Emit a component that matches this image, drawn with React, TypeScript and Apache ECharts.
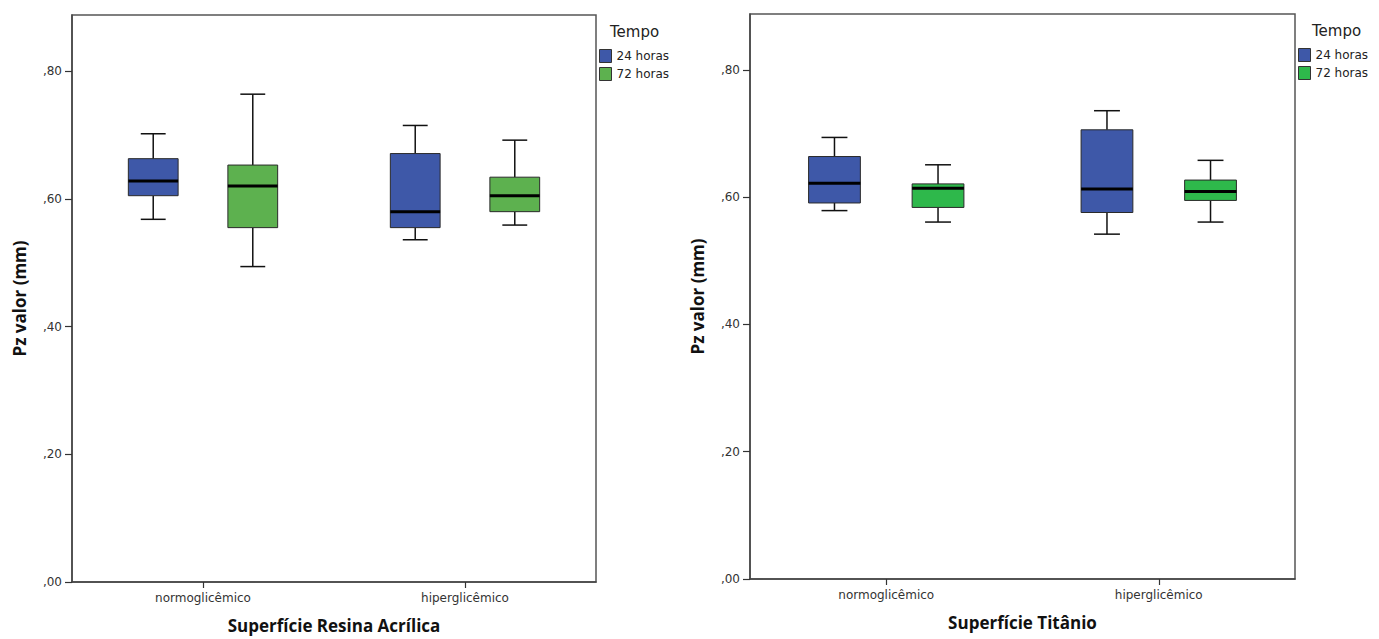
import React, { useEffect, useRef } from "react";
import * as echarts from "echarts";

// Categories and legend
const categories = ["normoglicêmico", "hiperglicêmico"];
const legendNames = ["24 horas", "72 horas"];
const yTicks = [0, 0.2, 0.4, 0.6, 0.8];

// [min, Q1, median, Q3, max] per category
const resina24 = [
  [0.568, 0.605, 0.628, 0.663, 0.702],
  [0.536, 0.555, 0.58, 0.671, 0.715],
];
const resina72 = [
  [0.494, 0.555, 0.62, 0.653, 0.764],
  [0.559, 0.58, 0.605, 0.634, 0.692],
];
const titanio24 = [
  [0.579, 0.591, 0.622, 0.664, 0.694],
  [0.542, 0.576, 0.613, 0.706, 0.736],
];
const titanio72 = [
  [0.561, 0.584, 0.614, 0.621, 0.651],
  [0.561, 0.595, 0.609, 0.627, 0.658],
];

const BLUE = "#3e58a8";
const GREEN_L = "#5db14f";
const GREEN_R = "#2eb84b";
const FONT = "DejaVu Sans";
const BOLD_FONT = "Open Sans";

function makeRender(offsetFrac: number, color: string) {
  return (params: any, api: any) => {
    const cat = api.value(0);
    const band = api.size([1, 0])[0];
    const cx = api.coord([cat, 0])[0] + offsetFrac * band;
    const w = 0.19 * band;
    const yMin = api.coord([cat, api.value(1)])[1];
    const yQ1 = api.coord([cat, api.value(2)])[1];
    const yMed = api.coord([cat, api.value(3)])[1];
    const yQ3 = api.coord([cat, api.value(4)])[1];
    const yMax = api.coord([cat, api.value(5)])[1];
    const lineStyle = { stroke: "#111", lineWidth: 1.5 };
    return {
      type: "group",
      children: [
        { type: "line", shape: { x1: cx, y1: yMax, x2: cx, y2: yQ3 }, style: lineStyle },
        { type: "line", shape: { x1: cx, y1: yQ1, x2: cx, y2: yMin }, style: lineStyle },
        { type: "line", shape: { x1: cx - w / 4, y1: yMax, x2: cx + w / 4, y2: yMax }, style: lineStyle },
        { type: "line", shape: { x1: cx - w / 4, y1: yMin, x2: cx + w / 4, y2: yMin }, style: lineStyle },
        {
          type: "rect",
          shape: { x: cx - w / 2, y: yQ3, width: w, height: yQ1 - yQ3 },
          style: { fill: color, stroke: "#2a2a2a", lineWidth: 1 },
        },
        {
          type: "line",
          shape: { x1: cx - w / 2, y1: yMed, x2: cx + w / 2, y2: yMed },
          style: { stroke: "#000", lineWidth: 3 },
        },
      ],
    };
  };
}

function toData(arr: number[][]) {
  return arr.map((d, i) => [i, ...d]);
}

export default function App() {
  const ref = useRef<HTMLDivElement>(null);
  useEffect(() => {
    if (!ref.current) return;
    const chart = echarts.init(ref.current, undefined, { renderer: "svg" });

    const grids = [
      { left: 72, top: 15, width: 524, height: 567 },
      { left: 750, top: 14, width: 545, height: 565 },
    ];
    const xNames = ["Superfície Resina Acrílica", "Superfície Titânio"];

    const xAxis = grids.map((_, i) => ({
      type: "category",
      gridIndex: i,
      data: categories,
      boundaryGap: true,
      name: xNames[i],
      nameLocation: "middle",
      nameGap: 35,
      nameTextStyle: { fontFamily: BOLD_FONT, fontWeight: "bold", fontSize: 17, color: "#111" },
      axisLine: { show: true, lineStyle: { color: "#444", width: 1.5 } },
      axisTick: { show: true, alignWithLabel: true, interval: 0, length: 6, lineStyle: { color: "#333", width: 1.2 } },
      axisLabel: { fontFamily: FONT, fontSize: 12, color: "#333", margin: 10, interval: 0 },
      splitLine: { show: false },
    }));

    const yAxis = grids.map((_, i) => ({
      type: "value",
      gridIndex: i,
      min: 0,
      max: 0.888,
      name: "Pz valor (mm)",
      nameLocation: "middle",
      nameGap: 44,
      nameTextStyle: { fontFamily: BOLD_FONT, fontWeight: "bold", fontSize: 17, color: "#111" },
      axisLine: { show: true, lineStyle: { color: "#444", width: 1.5 } },
      axisTick: { show: true, length: 7, customValues: yTicks, lineStyle: { color: "#333", width: 1.2 } },
      axisLabel: {
        fontFamily: FONT,
        fontSize: 12,
        color: "#333",
        margin: 10,
        customValues: yTicks,
        formatter: (v: number) => "," + v.toFixed(2).split(".")[1],
      },
      splitLine: { show: false },
    }));

    const series = [
      { data: resina24, g: 0, off: -0.19, color: BLUE, name: legendNames[0] },
      { data: resina72, g: 0, off: 0.19, color: GREEN_L, name: legendNames[1] },
      { data: titanio24, g: 1, off: -0.19, color: BLUE, name: legendNames[0] },
      { data: titanio72, g: 1, off: 0.19, color: GREEN_R, name: legendNames[1] },
    ].map((s) => ({
      type: "custom",
      name: s.name,
      xAxisIndex: s.g,
      yAxisIndex: s.g,
      data: toData(s.data),
      encode: { x: 0, y: [1, 2, 3, 4, 5] },
      itemStyle: { color: s.color },
      renderItem: makeRender(s.off, s.color),
    }));

    const legendCommon = {
      orient: "vertical",
      icon: "rect",
      itemWidth: 12,
      itemHeight: 13,
      itemGap: 4,
      selectedMode: false,
      textStyle: { fontFamily: FONT, fontSize: 12, color: "#222" },
      itemStyle: { borderColor: "#333", borderWidth: 1 },
      padding: 0,
    };

    chart.setOption({
      animation: false,
      backgroundColor: "#fff",
      title: [
        { text: "Tempo", left: 610, top: 24, padding: 0, textStyle: { fontFamily: FONT, fontSize: 15, fontWeight: "normal", color: "#222" } },
        { text: "Tempo", left: 1312, top: 23, padding: 0, textStyle: { fontFamily: FONT, fontSize: 15, fontWeight: "normal", color: "#222" } },
      ],
      legend: [
        {
          ...legendCommon,
          left: 599,
          top: 49,
          data: [
            { name: legendNames[0], itemStyle: { color: BLUE } },
            { name: legendNames[1], itemStyle: { color: GREEN_L } },
          ],
        },
        {
          ...legendCommon,
          left: 1298,
          top: 48,
          data: [
            { name: legendNames[0], itemStyle: { color: BLUE } },
            { name: legendNames[1], itemStyle: { color: GREEN_R } },
          ],
        },
      ],
      grid: grids.map((g) => ({ ...g, show: true, borderColor: "#555", borderWidth: 1.5, backgroundColor: "#fff" })),
      xAxis,
      yAxis,
      series,
    });
    return () => chart.dispose();
  }, []);
  return (
    <div
      ref={ref}
      style={{ position: "absolute", left: 0, top: 0, width: 1379, height: 639 }}
    />
  );
}
